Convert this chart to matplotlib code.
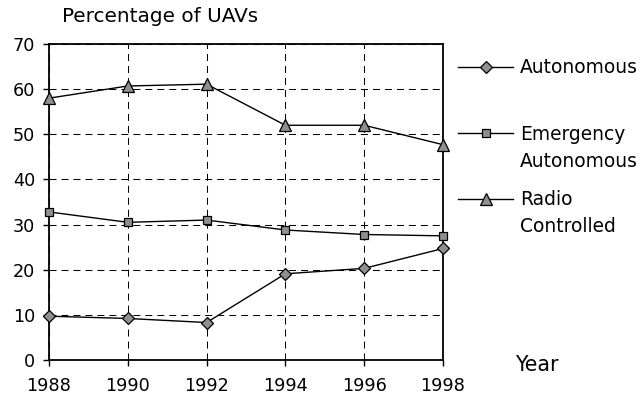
import matplotlib
matplotlib.use("Agg")
import matplotlib.pyplot as plt

years = [1988, 1990, 1992, 1994, 1996, 1998]
autonomous = [9.7, 9.2, 8.3, 19.1, 20.3, 24.7]
emergency = [32.8, 30.5, 31.0, 28.8, 27.8, 27.5]
radio = [58.0, 60.7, 61.1, 52.0, 52.0, 47.7]

series_labels = ["Autonomous", "Emergency\nAutonomous", "Radio\nControlled"]
y_ticks = [0, 10, 20, 30, 40, 50, 60, 70]

TICK_FONT = 12.7
FILL = "#8f8f8f"
plt.rcParams["font.family"] = ["DejaVu Sans"]

fig = plt.figure(figsize=(6.41, 4.04), dpi=100)
ax = fig.add_axes([49 / 641, 44 / 404, 394 / 641, 316 / 404])

styles = [
    dict(marker="D", markersize=5.7),
    dict(marker="s", markersize=6.4),
    dict(marker="^", markersize=8.2),
]
for vals, st in zip([autonomous, emergency, radio], styles):
    ax.plot(years, vals, color="black", linewidth=1.0, markerfacecolor=FILL,
            markeredgecolor="black", markeredgewidth=0.9, clip_on=False,
            zorder=4, **st)

ax.set_xlim(1988, 1998)
ax.set_ylim(0, 70)
ax.set_xticks(years)
ax.set_yticks(y_ticks)
ax.grid(True, color="black", linestyle=(0, (6.7, 4.8)), linewidth=0.75)
ax.set_axisbelow(True)
for sp in ax.spines.values():
    sp.set_linewidth(1.3)
ax.tick_params(direction="out", length=4, width=1.0, labelsize=TICK_FONT,
               colors="black", pad=6)
ax.tick_params(axis="x", pad=8)

ax.text(62 / 641, 1 - 17 / 404, "Percentage of UAVs", transform=fig.transFigure,
        fontsize=14.4, ha="left", va="center")
ax.text(515 / 641, 1 - 365 / 404, "Year", transform=fig.transFigure,
        fontsize=14.8, ha="left", va="center")

# legend, drawn to the right of the plot area (pixel positions -> axes fraction)
def fx(px):
    return (px - 49) / 394

def fy(py):
    return (360 - py) / 316

leg_rows = [67, 133, 199]
leg_baselines = [73, 167, 232]
for label, st, row, base in zip(series_labels, styles, leg_rows, leg_baselines):
    ax.plot([fx(458), fx(513)], [fy(row)] * 2, color="black", linewidth=1.0,
            transform=ax.transAxes, clip_on=False)
    ax.plot([fx(486)], [fy(row)], color="black", markerfacecolor=FILL,
            markeredgecolor="black", markeredgewidth=0.9,
            transform=ax.transAxes, clip_on=False, **st)
    ax.text(fx(520), fy(base), label, transform=ax.transAxes, fontsize=13.4,
            ha="left", va="baseline", linespacing=1.55)

fig.savefig("out.png", dpi=100, facecolor="white")
